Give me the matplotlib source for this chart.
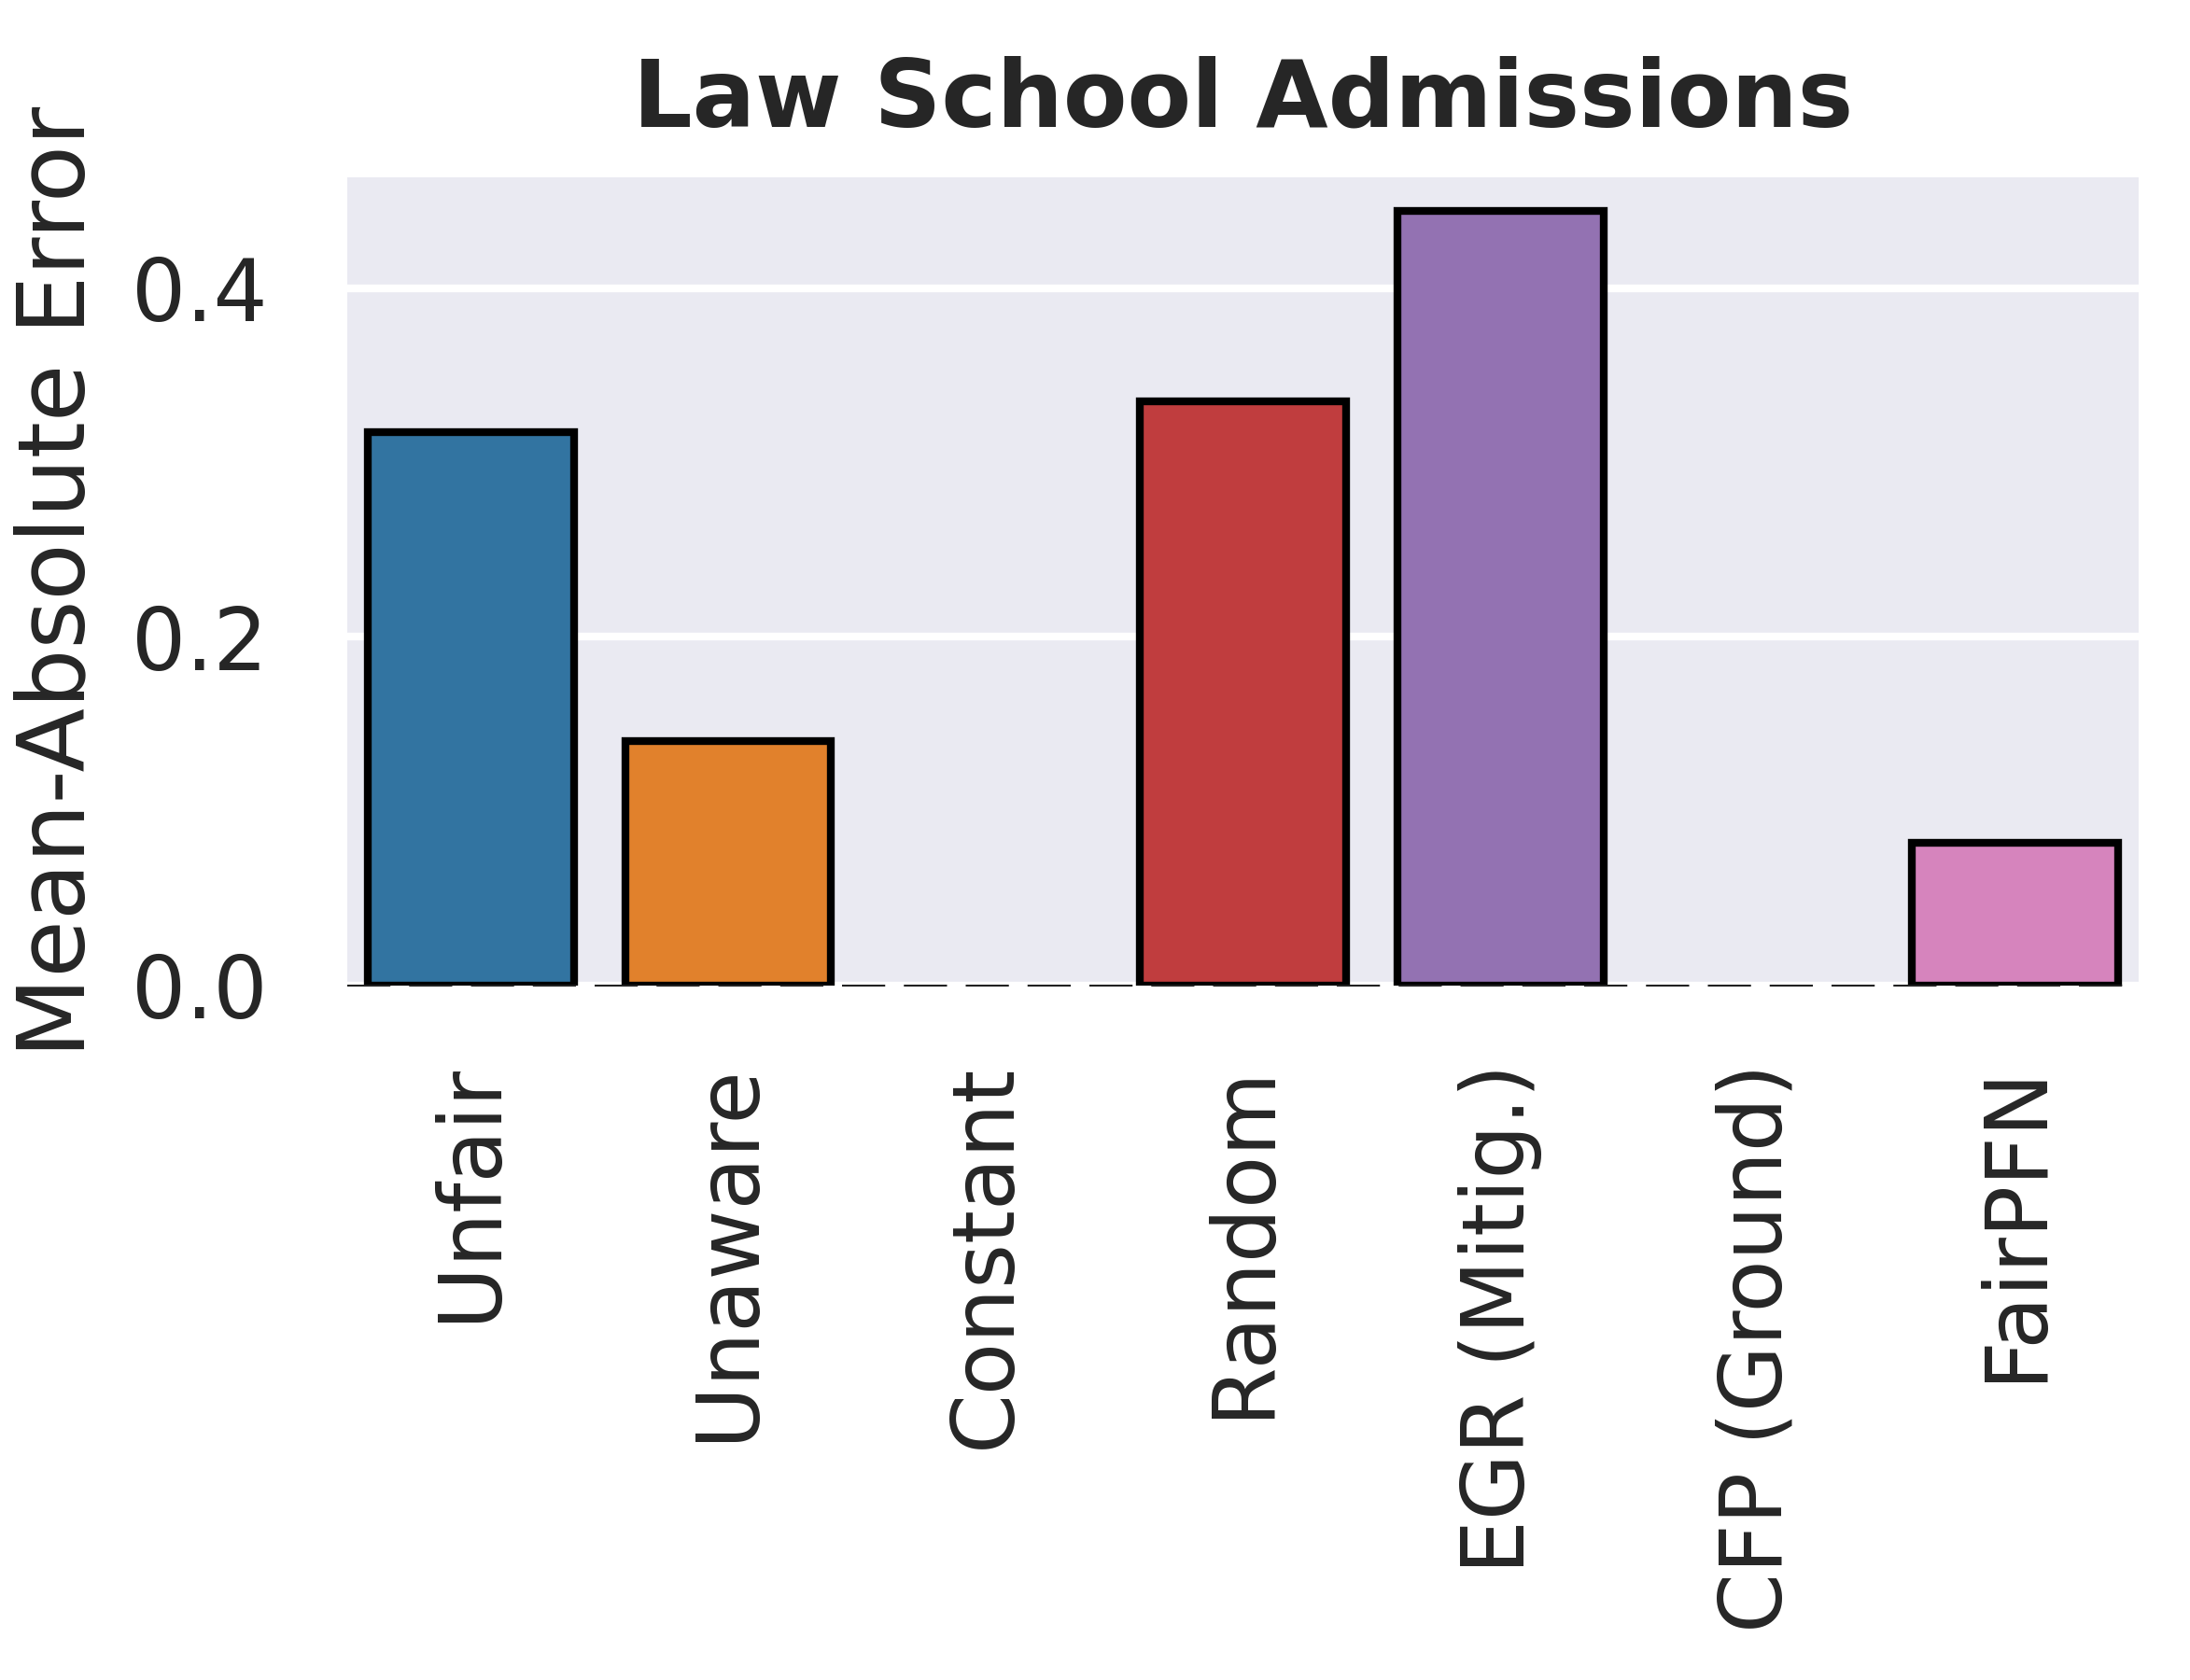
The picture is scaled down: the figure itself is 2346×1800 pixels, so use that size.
import matplotlib
matplotlib.use("Agg")
import matplotlib.pyplot as plt

categories = ["Unfair", "Unaware", "Constant", "Random", "EGR (Mitig.)", "CFP (Ground)", "FairPFN"]
mae_values = [0.3173, 0.1402, 0.0, 0.3350, 0.4443, 0.0, 0.0821]
bar_colors = ["#3274a1", "#e1812c", "#3a923a", "#c03d3e", "#9372b2", "#845b53", "#d684bd"]
y_ticks = [0.0, 0.2, 0.4]

plt.rcParams["font.family"] = ["DejaVu Sans"]
text_color = "#262626"

fig = plt.figure(figsize=(2346 / 300, 1800 / 300), dpi=300)
ax = fig.add_axes([372 / 2346, 1 - 1056 / 1800, (2291 - 372) / 2346, (1056 - 190) / 1800])
ax.set_facecolor("#EAEAF2")
for s in ax.spines.values():
    s.set_visible(False)
ax.set_axisbelow(True)
ax.grid(axis="y", color="white", linewidth=2)
ax.grid(axis="x", visible=False)

x = list(range(len(categories)))
edge_widths = [2 if v > 0 else 0 for v in mae_values]
ax.bar(x, mae_values, width=0.8, color=bar_colors, edgecolor="black",
       linewidth=edge_widths, zorder=2)
ax.axhline(0, color="#222222", linewidth=0.5, linestyle=(0, (22.2, 9.6)), zorder=3, clip_on=False)

ax.set_xlim(-0.48, len(categories) - 1 + 0.48)
ax.set_ylim(0, 0.4637)
ax.set_yticks(y_ticks)
ax.set_yticklabels([f"{v:.1f}" for v in y_ticks])
ax.set_xticks(x)
ax.set_xticklabels(categories, rotation=90)
ax.tick_params(axis="y", length=0, pad=20.5, labelsize=22, labelcolor=text_color)
ax.tick_params(axis="x", length=0, pad=20, labelsize=22, labelcolor=text_color)

ax.set_ylabel("Mean-Absolute Error", fontsize=24, color=text_color, labelpad=7)
ax.set_title("Law School Admissions", fontsize=24, fontweight="bold", color=text_color, pad=13)

fig.savefig("out.png", dpi=300)
